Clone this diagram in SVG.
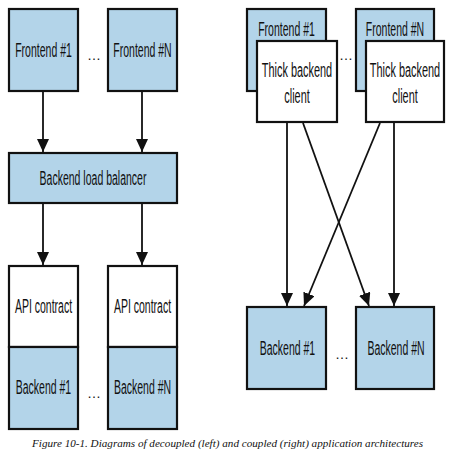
<svg xmlns="http://www.w3.org/2000/svg" width="453" height="455" viewBox="0 0 453 455">
<style>
.box{fill:#b3d4e9;stroke:#111;stroke-width:2.2}
.wbox{fill:#fff;stroke:#111;stroke-width:2.2}
.lbl{font-family:"Liberation Sans",Arial,sans-serif;font-size:21px;fill:#111;text-anchor:middle}
.dots{font-family:"Liberation Sans",Arial,sans-serif;font-size:14px;fill:#111;text-anchor:middle}
.cap{font-family:"Liberation Serif","Times New Roman",serif;font-style:italic;font-size:10.5px;fill:#111;text-anchor:middle}
.con line{stroke:#111;stroke-width:1.8;fill:none}
</style>
<defs>
<marker id="ah" viewBox="0 0 13 12" refX="13" refY="6" markerWidth="13" markerHeight="12" markerUnits="userSpaceOnUse" orient="auto">
<path d="M0,0 L13,6 L0,12 Z" fill="#111"/>
</marker>
</defs>
<rect width="453" height="455" fill="#fff"/>

<!-- Left: decoupled -->
<g id="l-frontend1"><rect class="box" x="9" y="9" width="69" height="82"/><text class="lbl" transform="translate(43.5,57) scale(0.5,1)">Frontend #1</text></g>
<g id="l-frontendN"><rect class="box" x="108" y="9" width="69" height="82"/><text class="lbl" transform="translate(142.5,57) scale(0.5,1)">Frontend #N</text></g>
<text class="dots" x="94" y="60">…</text>
<g id="l-lb"><rect class="box" x="9" y="153" width="168" height="50"/><text class="lbl" transform="translate(93,185) scale(0.5,1)">Backend load balancer</text></g>
<g id="l-api1"><rect class="wbox" x="9" y="266" width="69" height="81"/><text class="lbl" transform="translate(43.5,313) scale(0.5,1)">API contract</text></g>
<g id="l-apiN"><rect class="wbox" x="108" y="266" width="69" height="81"/><text class="lbl" transform="translate(142.5,313) scale(0.5,1)">API contract</text></g>
<g id="l-backend1"><rect class="box" x="9" y="347" width="69" height="82"/><text class="lbl" transform="translate(43.5,394) scale(0.5,1)">Backend #1</text></g>
<g id="l-backendN"><rect class="box" x="108" y="347" width="69" height="82"/><text class="lbl" transform="translate(142.5,394) scale(0.5,1)">Backend #N</text></g>
<text class="dots" x="94" y="398">…</text>

<!-- Right: coupled -->
<g id="r-frontend1"><rect class="box" x="247" y="9" width="79" height="82"/><text class="lbl" transform="translate(286.5,36) scale(0.5,1)">Frontend #1</text></g>
<g id="r-client1"><rect class="wbox" x="257" y="41" width="80" height="81"/><text class="lbl" transform="translate(297,77) scale(0.52,1)">Thick backend</text><text class="lbl" transform="translate(297,103) scale(0.52,1)">client</text></g>
<g id="r-frontendN"><rect class="box" x="356" y="9" width="78" height="82"/><text class="lbl" transform="translate(395,36) scale(0.5,1)">Frontend #N</text></g>
<g id="r-clientN"><rect class="wbox" x="366" y="41" width="78" height="81"/><text class="lbl" transform="translate(405,77) scale(0.52,1)">Thick backend</text><text class="lbl" transform="translate(405,103) scale(0.52,1)">client</text></g>
<text class="dots" x="346" y="60">…</text>
<g id="r-backend1"><rect class="box" x="247" y="307" width="79" height="82"/><text class="lbl" transform="translate(287.5,355) scale(0.5,1)">Backend #1</text></g>
<g id="r-backendN"><rect class="box" x="356" y="307" width="78" height="82"/><text class="lbl" transform="translate(396,355) scale(0.5,1)">Backend #N</text></g>
<text class="dots" x="342" y="359">…</text>

<g id="connectors" class="con">
<line x1="43" y1="92" x2="43" y2="152" marker-end="url(#ah)"/>
<line x1="142" y1="92" x2="142" y2="152" marker-end="url(#ah)"/>
<line x1="43" y1="204" x2="43" y2="265" marker-end="url(#ah)"/>
<line x1="142" y1="204" x2="142" y2="265" marker-end="url(#ah)"/>
<line x1="287" y1="123" x2="287" y2="306" marker-end="url(#ah)"/>
<line x1="303" y1="123" x2="369" y2="306" marker-end="url(#ah)"/>
<line x1="380" y1="123" x2="304" y2="306" marker-end="url(#ah)"/>
<line x1="394" y1="123" x2="394" y2="306" marker-end="url(#ah)"/>
</g>

<text class="cap" x="227.5" y="447" textLength="391" lengthAdjust="spacingAndGlyphs">Figure 10-1. Diagrams of decoupled (left) and coupled (right) application architectures</text>
</svg>
